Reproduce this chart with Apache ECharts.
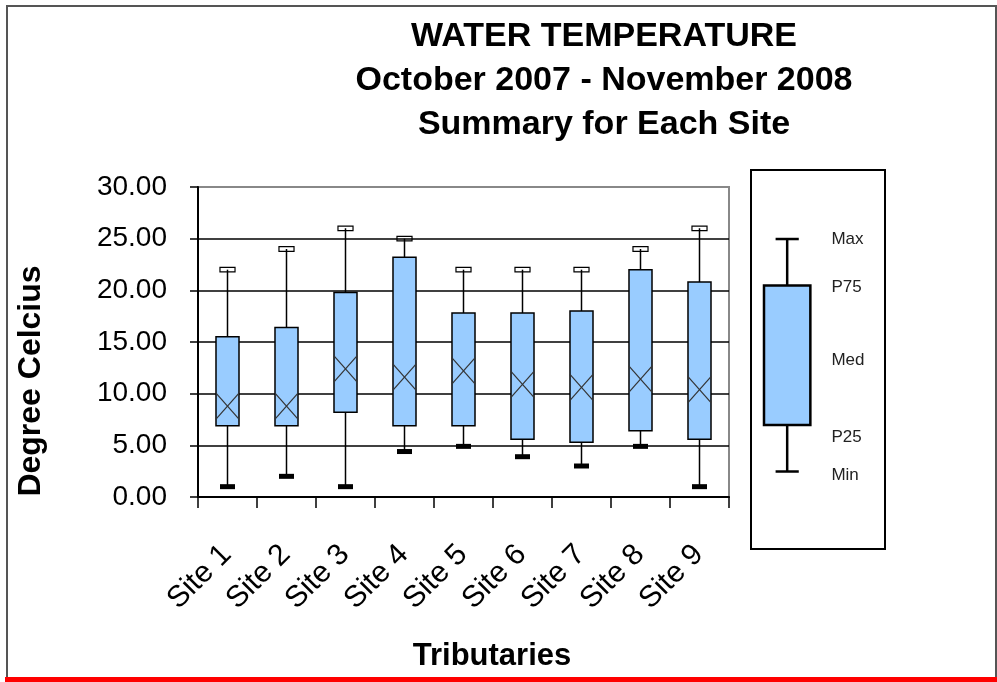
<!DOCTYPE html>
<html>
<head>
<meta charset="utf-8">
<title>Water Temperature</title>
<script src="https://cdn.jsdelivr.net/npm/echarts@6/dist/echarts.min.js"></script>
<style>
  html, body { margin: 0; padding: 0; background: #fff; }
  #chart { width: 997px; height: 682px; }
</style>
</head>
<body>
<div id="chart"></div>
<script>
// values (degrees C)
const sites = ['Site 1', 'Site 2', 'Site 3', 'Site 4', 'Site 5', 'Site 6', 'Site 7', 'Site 8', 'Site 9'];
const minValues = [1, 2, 1, 4.4, 4.9, 3.9, 3, 4.9, 1];
const p25Values = [6.9, 6.9, 8.2, 6.9, 6.9, 5.6, 5.3, 6.4, 5.6];
const medValues = [8.8, 8.8, 12.4, 11.6, 12.2, 10.9, 10.6, 11.4, 10.4];
const p75Values = [15.5, 16.4, 19.8, 23.2, 17.8, 17.8, 18, 22, 20.8];
const maxValues = [22, 24, 26, 25, 22, 22, 22, 24, 26];

// the key on the right
const keyNames = ['Min', 'P25', 'Med', 'P75', 'Max'];
const keyValues = [2.5, 7, 13.5, 20.5, 25];

const FONT = '"Liberation Sans", Arial, sans-serif';

const boxData = sites.map((s, i) => [i, minValues[i], p25Values[i], medValues[i], p75Values[i], maxValues[i]]);

function renderBox(params, api) {
  const i = api.value(0);
  const pMin = api.coord([i, api.value(1)]);
  const yQ1 = api.coord([i, api.value(2)])[1];
  const yMed = api.coord([i, api.value(3)])[1];
  const yQ3 = api.coord([i, api.value(4)])[1];
  const yMax = api.coord([i, api.value(5)])[1];
  const cx = pMin[0];
  const band = api.size([1, 0])[0];
  const bw = band * 0.39;
  const cw = band * 0.255;
  const xh = 13;
  return {
    type: 'group',
    children: [
      { type: 'line', shape: { x1: cx, y1: pMin[1], x2: cx, y2: yMax }, style: { stroke: '#000', lineWidth: 1.5 } },
      { type: 'rect', shape: { x: cx - bw / 2, y: yQ3, width: bw, height: yQ1 - yQ3 },
        style: { fill: '#99ccff', stroke: '#000', lineWidth: 1.5 } },
      { type: 'line', shape: { x1: cx - bw / 2, y1: yMed - xh, x2: cx + bw / 2, y2: yMed + xh },
        style: { stroke: '#333', lineWidth: 1.2 } },
      { type: 'line', shape: { x1: cx - bw / 2, y1: yMed + xh, x2: cx + bw / 2, y2: yMed - xh },
        style: { stroke: '#333', lineWidth: 1.2 } },
      { type: 'rect', shape: { x: cx - cw / 2, y: yMax - 2.3, width: cw, height: 4.6 },
        style: { fill: 'none', stroke: '#000', lineWidth: 1.2 } },
      { type: 'rect', shape: { x: cx - cw / 2, y: pMin[1] - 2.5, width: cw, height: 5 },
        style: { fill: '#000' } }
    ]
  };
}

function renderKey(params, api) {
  const v = keyValues.map(k => api.coord([0.27, k]));
  const cx = v[0][0];
  const size = api.size([1, 0])[0];
  const bw = size * 0.346;
  const cw = size * 0.173;
  const tx = api.coord([0.6, 0])[0];
  const shift = [4, 12, 2, 2, 0];
  const texts = keyNames.map((n, i) => ({
    type: 'text',
    style: { text: n, x: tx, y: v[i][1] + shift[i], fill: '#222', font: '17px ' + FONT,
      textAlign: 'left', textVerticalAlign: 'middle' }
  }));
  return {
    type: 'group',
    children: [
      { type: 'line', shape: { x1: cx, y1: v[0][1], x2: cx, y2: v[4][1] }, style: { stroke: '#000', lineWidth: 2.5 } },
      { type: 'line', shape: { x1: cx - cw / 2, y1: v[0][1], x2: cx + cw / 2, y2: v[0][1] }, style: { stroke: '#000', lineWidth: 2.5 } },
      { type: 'line', shape: { x1: cx - cw / 2, y1: v[4][1], x2: cx + cw / 2, y2: v[4][1] }, style: { stroke: '#000', lineWidth: 2.5 } },
      { type: 'rect', shape: { x: cx - bw / 2, y: v[3][1], width: bw, height: v[1][1] - v[3][1] },
        style: { fill: '#99ccff', stroke: '#000', lineWidth: 2.5 } }
    ].concat(texts)
  };
}

const chart = echarts.init(document.getElementById('chart'));
chart.setOption({
  animation: false,
  backgroundColor: '#fff',
  title: {
    text: 'WATER TEMPERATURE\nOctober 2007 - November 2008\nSummary for Each Site',
    left: 604,
    top: 15,
    padding: 0,
    textAlign: 'center',
    textStyle: { fontFamily: FONT, fontSize: 34, fontWeight: 'bold', color: '#000', lineHeight: 44 }
  },
  grid: [
    { left: 198, top: 187, width: 531, height: 310, show: true, borderColor: '#888', borderWidth: 2,
      outerBoundsMode: 'none', containLabel: false },
    { left: 751, top: 170, width: 134, height: 379, show: true, borderColor: '#000', borderWidth: 2,
      outerBoundsMode: 'none', containLabel: false }
  ],
  xAxis: [
    {
      type: 'category',
      gridIndex: 0,
      data: sites,
      boundaryGap: true,
      axisLine: { lineStyle: { color: '#000', width: 2 } },
      axisTick: { show: true, length: 11, lineStyle: { color: '#000', width: 1.5 } },
      axisLabel: { rotate: 45, margin: 31, verticalAlign: 'top', padding: [0, 16, 0, 0],
        fontFamily: FONT, fontSize: 30, color: '#000', interval: 0 },
      splitLine: { show: false }
    },
    { type: 'value', gridIndex: 1, min: 0, max: 1, show: false }
  ],
  yAxis: [
    {
      type: 'value',
      gridIndex: 0,
      min: 0,
      max: 30,
      interval: 5,
      axisLine: { show: true, lineStyle: { color: '#000', width: 2 } },
      axisTick: { show: true, length: 8, lineStyle: { color: '#000', width: 1.5 } },
      axisLabel: { margin: 31, fontFamily: FONT, fontSize: 28, color: '#000', formatter: v => v.toFixed(2) },
      splitLine: { show: true, lineStyle: { color: ['#000', '#000', '#000', '#000', '#000', '#000', '#888'], width: 1.5 } }
    },
    { type: 'value', gridIndex: 1, min: -5, max: 31.68, show: false }
  ],
  graphic: [
    { type: 'rect', shape: { x: 7, y: 6, width: 989, height: 672 }, style: { fill: 'none', stroke: '#555', lineWidth: 2 }, z: -1 },
    { type: 'rect', shape: { x: 5, y: 677, width: 992, height: 5 }, style: { fill: '#ff0000' } },
    { type: 'text', x: 31, y: 381, rotation: Math.PI / 2,
      style: { text: 'Degree Celcius', font: 'bold 32px ' + FONT, fill: '#000', textAlign: 'center', textVerticalAlign: 'middle' } },
    { type: 'text', x: 492, y: 656,
      style: { text: 'Tributaries', font: 'bold 31px ' + FONT, fill: '#000', textAlign: 'center', textVerticalAlign: 'middle' } }
  ],
  series: [
    {
      type: 'custom',
      name: 'Water temperature',
      xAxisIndex: 0,
      yAxisIndex: 0,
      renderItem: renderBox,
      encode: { x: 0, y: [1, 2, 3, 4, 5] },
      data: boxData,
      z: 3
    },
    {
      type: 'custom',
      name: 'Key',
      xAxisIndex: 1,
      yAxisIndex: 1,
      renderItem: renderKey,
      data: [[0]],
      clip: false
    }
  ]
});
</script>
</body>
</html>
